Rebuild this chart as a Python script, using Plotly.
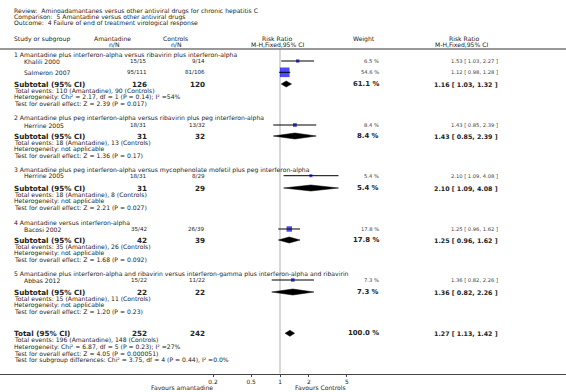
import plotly.graph_objects as go

# ---------------- data ----------------
title_lines = [
    "Review:\u00a0 Aminoadamantanes versus other antiviral drugs for chronic hepatitis C",
    "Comparison:\u00a0 5 Amantadine versus other antiviral drugs",
    "Outcome:\u00a0 4 Failure of end of treatment virological response",
]
group_titles = [
    "1 Amantadine plus interferon-alpha versus ribavirin plus interferon-alpha",
    "2 Amantadine plus peg interferon-alpha versus ribavirin plus peg interferon-alpha",
    "3 Amantadine plus peg interferon-alpha versus mycophenolate mofetil plus peg interferon-alpha",
    "4 Amantadine versus interferon-alpha",
    "5 Amantadine plus interferon-alpha and ribavirin versus interferon-gamma plus interferon-alpha and ribavirin",
]
study_names = ["Khalili 2000", "Salmeron 2007", "Herrine 2005", "Herrine 2005", "Bacosi 2002", "Abbas 2012"]
events_a = [15, 95, 18, 18, 35, 15]
total_a = [15, 111, 31, 31, 42, 22]
events_c = [9, 81, 13, 8, 26, 11]
total_c = [14, 106, 32, 29, 39, 22]
weights = [6.5, 54.6, 8.4, 5.4, 17.8, 7.3]
rr = [1.53, 1.12, 1.43, 2.10, 1.25, 1.36]
rr_lo = [1.03, 0.98, 0.85, 1.09, 0.96, 0.82]
rr_hi = [2.27, 1.28, 2.39, 4.08, 1.62, 2.26]

sub_total_a = [126, 31, 31, 42, 22]
sub_total_c = [120, 32, 29, 39, 22]
sub_events_a = [110, 18, 18, 35, 15]
sub_events_c = [90, 13, 8, 26, 11]
sub_weight = [61.1, 8.4, 5.4, 17.8, 7.3]
sub_rr = [1.16, 1.43, 2.10, 1.25, 1.36]
sub_lo = [1.03, 0.85, 1.09, 0.96, 0.82]
sub_hi = [1.32, 2.39, 4.08, 1.62, 2.26]
sub_het = ["Chi\u00b2 = 2.17, df = 1 (P = 0.14); I\u00b2 =54%", "not applicable",
           "not applicable", "not applicable", "not applicable"]
sub_test = ["Z = 2.39 (P = 0.017)", "Z = 1.36 (P = 0.17)", "Z = 2.21 (P = 0.027)",
            "Z = 1.68 (P = 0.092)", "Z = 1.20 (P = 0.23)"]

total_n_a, total_n_c = 252, 242
total_events_a, total_events_c = 196, 148
total_weight = 100.0
total_rr, total_lo, total_hi = 1.27, 1.13, 1.42
total_het = "Chi\u00b2 = 6.87, df = 5 (P = 0.23); I\u00b2 =27%"
total_test = "Z = 4.05 (P = 0.000051)"
subgroup_test = "Chi\u00b2 = 3.75, df = 4 (P = 0.44), I\u00b2 =0.0%"

tick_vals = [0.2, 0.5, 1, 2, 5]
tick_labels = ["0.2", "0.5", "1", "2", "5"]

# ---------------- layout (pixel positions) ----------------
W, H = 566, 392
PX1 = 280.0      # pixel of RR = 1
PPD = 95.8       # pixels per decade
AXIS_Y = 373.5
FONT = "DejaVu Sans"
TXT = "#222222"

group_y = [55, 118, 169.5, 222.5, 274]
study_y = [61, 72.3, 125, 175.7, 229, 280]
subtotal_y = [84, 136, 188, 240, 292]
total_y = 333.3
LINE = 6.6

X_LEFT = 13
X_STUDY = 23
X_NA = 148
X_NC = 206
X_W = 380
X_RR = 499

F_TXT = 6.1      # regular text
F_STUDY = 6.1    # study names
F_NN = 5.6       # n/N values
F_SMALL = 5.2    # study weight / estimate
F_BOLD = 7.2     # subtotal labels and totals
F_BW = 6.9       # bold weight
F_BRR = 6.3      # bold estimate

fig = go.Figure()
ann = []


def text(px, py, s, size=F_TXT, anchor="left", bold=False, color=TXT):
    ann.append(dict(
        x=px / W, y=py, xref="paper", yref="y",
        text=("<b>%s</b>" % s) if bold else s,
        showarrow=False, xanchor=anchor, yanchor="middle",
        font=dict(family=FONT, size=size, color=color), borderpad=0,
    ))


def ci_text(v, lo, hi):
    return "%.2f [ %.2f, %.2f ]" % (v, lo, hi)


# titles
for i, t in enumerate(title_lines):
    text(X_LEFT, 11.3 + 6 * i, t)

# header
text(X_LEFT, 38.5, "Study or subgroup")
text(112.5, 38.5, "Amantadine", anchor="center")
text(120.5, 44.5, "n/N", anchor="right")
text(175, 38.5, "Controls", anchor="center")
text(182, 44.5, "n/N", anchor="right")
text(277, 38.5, "Risk Ratio", anchor="center")
text(277, 44.5, "M-H,Fixed,95% CI", anchor="center")
text(363.5, 38.5, "Weight", anchor="center")
text(464, 38.5, "Risk Ratio", anchor="center")
text(461, 44.5, "M-H,Fixed,95% CI", anchor="center")

# header separator line (full width)
fig.add_shape(type="line", xref="paper", yref="y", x0=0, x1=1, y0=49, y1=49,
              line=dict(color="#999999", width=2))

# vertical line of no effect
fig.add_trace(go.Scatter(x=[1, 1], y=[50, AXIS_Y], mode="lines",
                         line=dict(color="#cfcfcf", width=1.6), hoverinfo="skip"))

# groups
for g in range(len(group_titles)):
    text(X_LEFT, group_y[g], group_titles[g])
    sy = subtotal_y[g]
    text(X_LEFT, sy, "Subtotal (95% CI)", size=F_BOLD, bold=True)
    text(X_NA, sy, str(sub_total_a[g]), size=F_BOLD, bold=True, anchor="right")
    text(X_NC, sy, str(sub_total_c[g]), size=F_BOLD, bold=True, anchor="right")
    text(X_W, sy, "%.1f %%" % sub_weight[g], size=F_BW, bold=True, anchor="right")
    text(X_RR, sy, ci_text(sub_rr[g], sub_lo[g], sub_hi[g]), size=F_BRR, bold=True, anchor="right")
    text(X_LEFT, sy + LINE, "Total events: %d (Amantadine), %d (Controls)" % (sub_events_a[g], sub_events_c[g]))
    text(X_LEFT, sy + 2 * LINE, "Heterogeneity: " + sub_het[g])
    text(X_LEFT, sy + 3 * LINE, "Test for overall effect: " + sub_test[g])
    # diamond
    fig.add_trace(go.Scatter(
        x=[sub_lo[g], sub_rr[g], sub_hi[g], sub_rr[g], sub_lo[g]],
        y=[sy, sy - 3, sy, sy + 3, sy], mode="lines", fill="toself",
        fillcolor="black", line=dict(color="black", width=0.5), hoverinfo="skip"))

# studies
for i in range(len(study_names)):
    y = study_y[i]
    text(X_STUDY, y, study_names[i], size=F_STUDY)
    text(X_NA, y, "%d/%d" % (events_a[i], total_a[i]), size=F_NN, anchor="right")
    text(X_NC, y, "%d/%d" % (events_c[i], total_c[i]), size=F_NN, anchor="right")
    text(X_W, y, "%.1f %%" % weights[i], size=F_SMALL, anchor="right", color="#444444")
    text(X_RR, y, ci_text(rr[i], rr_lo[i], rr_hi[i]), size=F_SMALL, anchor="right", color="#444444")

fig.add_trace(go.Scatter(
    x=rr, y=study_y, mode="markers",
    marker=dict(symbol="square", color="#0000ff", size=[1.3 * w ** 0.5 for w in weights],
                line=dict(width=0)), hoverinfo="skip"))
ci_x, ci_y = [], []
for i in range(len(study_names)):
    ci_x += [rr_lo[i], rr_hi[i], None]
    ci_y += [study_y[i], study_y[i], None]
fig.add_trace(go.Scatter(x=ci_x, y=ci_y, mode="lines",
                         line=dict(color="black", width=1), hoverinfo="skip"))

# overall total
ty = total_y
text(X_LEFT, ty, "Total (95% CI)", size=F_BOLD, bold=True)
text(X_NA, ty, str(total_n_a), size=F_BOLD, bold=True, anchor="right")
text(X_NC, ty, str(total_n_c), size=F_BOLD, bold=True, anchor="right")
text(X_W, ty, "%.1f %%" % total_weight, size=F_BW, bold=True, anchor="right")
text(X_RR, ty, ci_text(total_rr, total_lo, total_hi), size=F_BRR, bold=True, anchor="right")
text(X_LEFT, ty + LINE, "Total events: %d (Amantadine), %d (Controls)" % (total_events_a, total_events_c))
text(X_LEFT, ty + 2 * LINE, "Heterogeneity: " + total_het)
text(X_LEFT, ty + 3 * LINE, "Test for overall effect: " + total_test)
text(X_LEFT, ty + 4 * LINE, "Test for subgroup differences: " + subgroup_test)
fig.add_trace(go.Scatter(
    x=[total_lo, total_rr, total_hi, total_rr, total_lo],
    y=[ty, ty - 3, ty, ty + 3, ty], mode="lines", fill="toself",
    fillcolor="black", line=dict(color="black", width=0.5), hoverinfo="skip"))

# favours labels
text(182, 387.3, "Favours amantadine", anchor="center")
text(320, 387.3, "Favours Controls", anchor="center")

fig.update_layout(
    width=W, height=H, margin=dict(l=0, r=0, t=0, b=0),
    paper_bgcolor="white", plot_bgcolor="white", showlegend=False,
    annotations=ann,
    xaxis=dict(type="log", range=[(0 - PX1) / PPD, (W - PX1) / PPD], domain=[0, 1],
               anchor="free", position=(H - AXIS_Y) / H,
               showline=True, linecolor="#444444", linewidth=1,
               ticks="outside", ticklen=2, tickcolor="#444444",
               tickvals=tick_vals, ticktext=tick_labels,
               tickfont=dict(family=FONT, size=5.9, color=TXT),
               showgrid=False, zeroline=False, fixedrange=True),
    yaxis=dict(range=[H, 0], domain=[0, 1], visible=False, fixedrange=True),
)

fig.write_html(
    "out.html",
    config={"displayModeBar": False},
    post_script="document.body.style.margin='0';document.body.style.overflow='hidden';",
)
